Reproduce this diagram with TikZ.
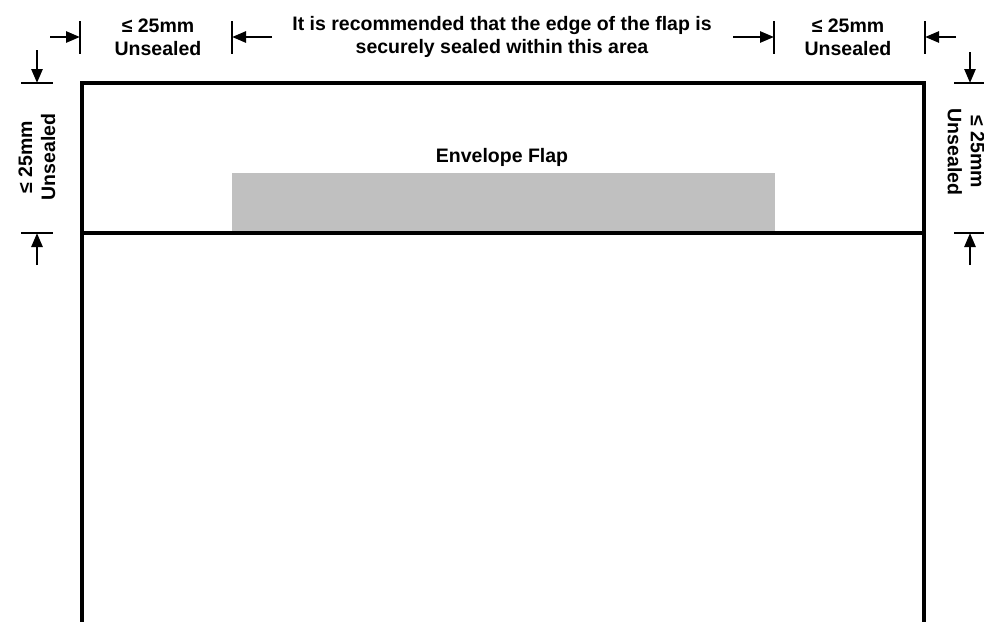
\documentclass[tikz,border=0pt]{standalone}
\usepackage{fontspec}
\setmainfont{Liberation Sans}
\usepackage{xcolor}
\usetikzlibrary{arrows.meta}
\definecolor{ink}{HTML}{000000}
\definecolor{flapfill}{HTML}{C0C0C0}
\tikzset{
  edge/.style={draw=ink, line width=3.4pt, line join=miter},
  tick/.style={draw=ink, line width=2.2pt},
  dim/.style={draw=ink, line width=2.6pt, -{Triangle[length=14pt,width=11pt]}},
  lab/.style={text=ink, font=\fontsize{19.5}{23}\selectfont\bfseries, align=center, inner sep=0pt},
}
\begin{document}
\begin{tikzpicture}[x=1pt,y=-1pt]
  \useasboundingbox (0,0) rectangle (984,621);
  \coordinate (TL) at (82,83);
  \coordinate (TR) at (924,83);
  \coordinate (BL) at (82,623);
  \coordinate (BR) at (924,623);
  \coordinate (FL) at (82,233);
  \coordinate (FR) at (924,233);

  \fill[flapfill] (232,173) rectangle (775,231);
  \draw[edge] (BL) -- (TL) -- (TR) -- (BR);
  \draw[edge] (FL) -- (FR);  % fold line
  \node[lab] (flap) at (502,157) {Envelope Flap};

  % top dimension marks
  \coordinate (t1) at (80,37);
  \coordinate (t2) at (232,37);
  \coordinate (t3) at (774,37);
  \coordinate (t4) at (925,37);
  \coordinate (a1) at (50,37);
  \coordinate (a2) at (272,37);
  \coordinate (a3) at (733,37);
  \coordinate (a4) at (956,37);
  \foreach \t in {t1,t2,t3,t4}
    \draw[tick] (\t) ++(0,-16) -- ++(0,33);
  \draw[dim] (a1) -- (t1);
  \draw[dim] (a2) -- (t2);
  \draw[dim] (a3) -- (t3);
  \draw[dim] (a4) -- (t4);

  \node[lab] (topL) at (158,37) {≤ 25mm\\Unsealed};
  \node[lab] (topM) at (502,37) {It is recommended that the edge of the flap is\\securely sealed within this area};
  \node[lab] (topR) at (848,37) {≤ 25mm\\Unsealed};

  % side dimension marks
  \coordinate (l1) at (37,83);
  \coordinate (l2) at (37,233);
  \coordinate (r1) at (970,83);
  \coordinate (r2) at (970,233);
  \coordinate (b1) at (37,50);
  \coordinate (b2) at (37,265);
  \coordinate (c1) at (970,52);
  \coordinate (c2) at (970,265);
  \foreach \t in {l1,l2,r1,r2}
    \draw[tick] (\t) ++(-16,0) -- ++(32,0);
  \draw[dim] (b1) -- (l1);
  \draw[dim] (b2) -- (l2);
  \draw[dim] (c1) -- (r1);
  \draw[dim] (c2) -- (r2);

  \node[lab, rotate=90] (sideL) at (37,157) {≤ 25mm\\Unsealed};
  \node[lab, rotate=-90] (sideR) at (966,152) {≤ 25mm\\Unsealed};
\end{tikzpicture}
\end{document}
